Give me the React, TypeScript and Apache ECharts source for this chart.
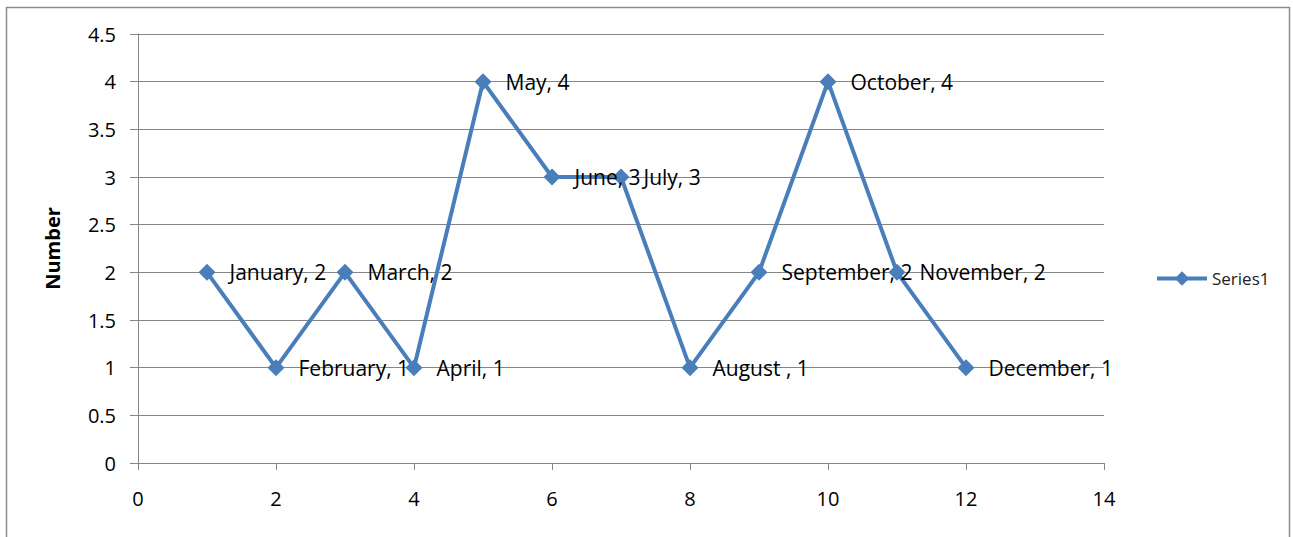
import React, { useEffect, useRef } from "react";
import * as echarts from "echarts";

const xValues = [1, 2, 3, 4, 5, 6, 7, 8, 9, 10, 11, 12];
const yValues = [2, 1, 2, 1, 4, 3, 3, 1, 2, 4, 2, 1];
const monthLabels = [
  "January", "February", "March", "April", "May", "June",
  "July", "August ", "September", "October", "November", "December",
];
const seriesName = "Series1";
const yAxisTitle = "Number";

export default function App() {
  const ref = useRef<HTMLDivElement>(null);
  useEffect(() => {
    if (!ref.current) return;
    const chart = echarts.init(ref.current, undefined, { renderer: "svg" });
    const font = "'Open Sans', 'Liberation Sans', sans-serif";
    const data = xValues.map((x, i) => ({
      value: [x, yValues[i]],
      name: monthLabels[i],
    }));
    chart.setOption({
      animation: false,
      backgroundColor: "#ffffff",
      graphic: [
        {
          type: "rect",
          shape: { x: 6.5, y: 7.5, width: 1283, height: 540 },
          style: { fill: "none", stroke: "#8c8c8c", lineWidth: 1.5 },
          silent: true,
        },
      ],
      legend: {
        data: [seriesName],
        left: 1150,
        top: 265,
        itemWidth: 50,
        itemHeight: 18,
        itemGap: 8,
        lineStyle: { width: 4 },
        textStyle: { fontFamily: font, fontSize: 17, color: "#222" },
      },
      grid: { left: 138, right: 189, top: 34, bottom: 74 },
      xAxis: {
        type: "value",
        min: 0,
        max: 14,
        interval: 2,
        axisLine: { show: true, lineStyle: { color: "#868686", width: 1 } },
        axisTick: { show: true, length: 7, inside: false, lineStyle: { color: "#868686" } },
        splitLine: { show: false },
        axisLabel: { fontFamily: font, fontSize: 20, color: "#000", margin: 25 },
      },
      yAxis: {
        type: "value",
        min: 0,
        max: 4.5,
        interval: 0.5,
        name: yAxisTitle,
        nameLocation: "middle",
        nameGap: 76,
        nameRotate: 90,
        nameTextStyle: { fontFamily: font, fontSize: 20, fontWeight: "bold", color: "#000" },
        axisLine: { show: true, lineStyle: { color: "#868686", width: 1 } },
        axisTick: { show: true, length: 8, lineStyle: { color: "#868686" } },
        splitLine: { show: true, lineStyle: { color: "#868686", width: 1 } },
        axisLabel: { fontFamily: font, fontSize: 20, color: "#000", margin: 22 },
      },
      series: [
        {
          name: seriesName,
          type: "line",
          data,
          symbol: "diamond",
          symbolSize: 17,
          lineStyle: { color: "#4A7EBB", width: 4 },
          itemStyle: { color: "#4A7EBB" },
          label: {
            show: true,
            position: "right",
            distance: 14,
            fontFamily: font,
            fontSize: 21,
            color: "#000",
            formatter: (p: any) => `${p.name}, ${p.value[1]}`,
          },
        },
      ],
    });
    return () => chart.dispose();
  }, []);
  return (
    <div
      ref={ref}
      style={{ position: "fixed", left: 0, top: 0, width: 1293, height: 537 }}
    />
  );
}
